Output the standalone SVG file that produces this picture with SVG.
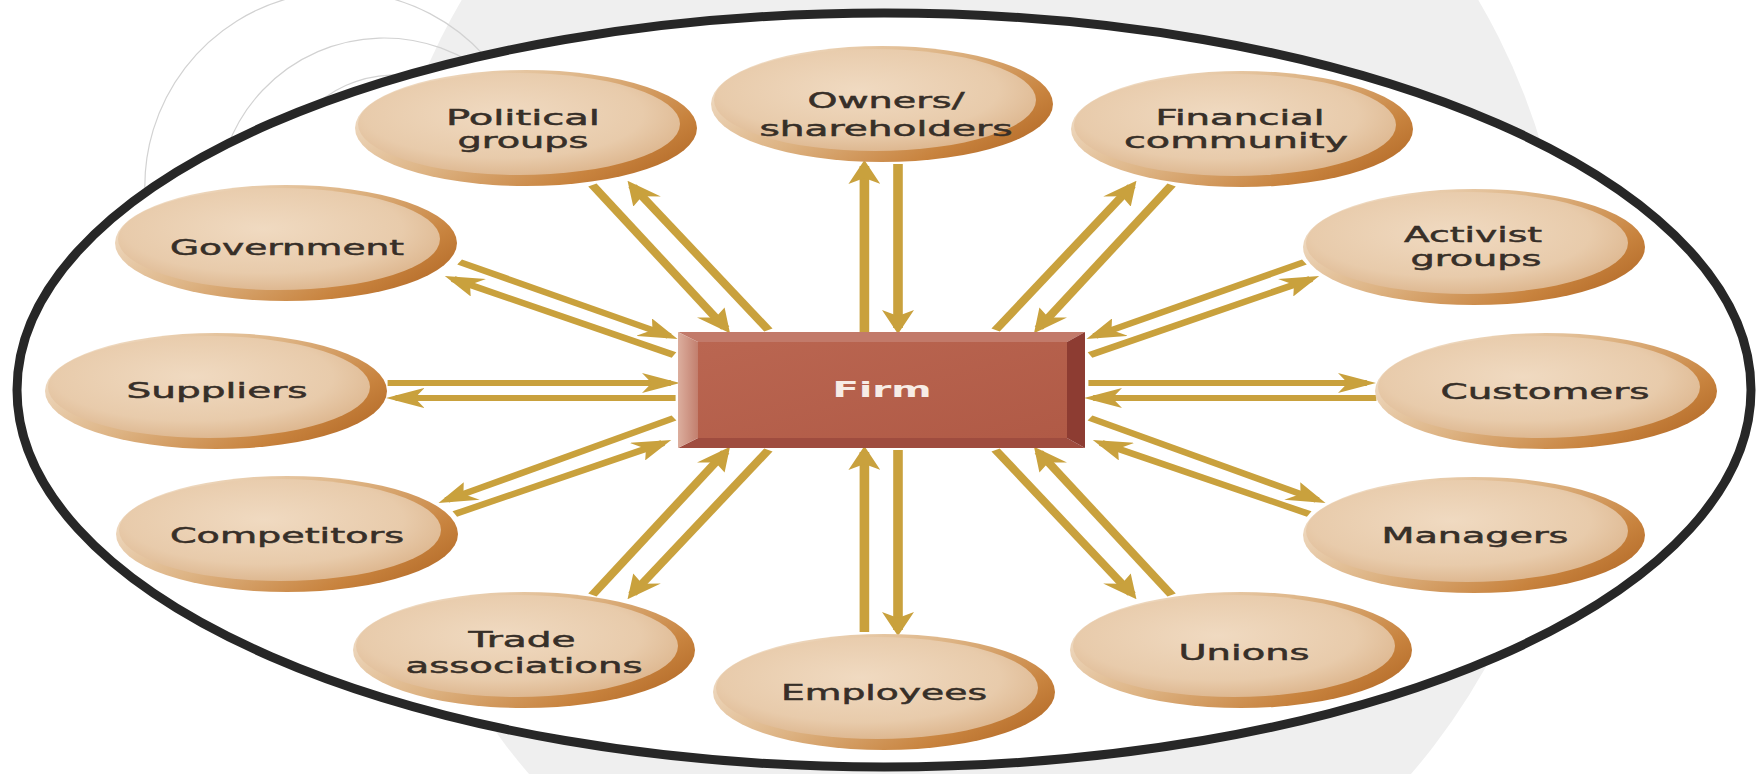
<svg xmlns="http://www.w3.org/2000/svg" width="1758" height="774" viewBox="0 0 1758 774">
<defs>
<style>
.lbl{font-family:"DejaVu Sans","Liberation Sans",sans-serif;font-size:21px;fill:#372f28;stroke:#372f28;stroke-width:0.5;text-anchor:middle}
.firm{font-family:"DejaVu Sans","Liberation Sans",sans-serif;font-size:21px;font-weight:bold;fill:#f7ece6;text-anchor:middle}
.rim{fill:url(#rimG)}
.face{fill:url(#faceG)}
.arc{fill:none;stroke:#d2d2d2;stroke-width:1.2}
.cn{fill:none;stroke:#c9a13d;stroke-width:6;marker-end:url(#ah)}
</style>
<linearGradient id="rimG" x1="0" y1="0.2" x2="1" y2="0.8">
<stop offset="0" stop-color="#f2e2cf"/>
<stop offset="0.45" stop-color="#ddb383"/>
<stop offset="0.8" stop-color="#c8833e"/>
<stop offset="1" stop-color="#b36a28"/>
</linearGradient>
<radialGradient id="faceG" cx="0.45" cy="0.4" r="0.62">
<stop offset="0" stop-color="#f0dac1"/>
<stop offset="0.7" stop-color="#e8cbab"/>
<stop offset="1" stop-color="#ddb68e"/>
</radialGradient>
<linearGradient id="firmFace" x1="0" y1="0" x2="1" y2="1">
<stop offset="0" stop-color="#ba6651"/>
<stop offset="1" stop-color="#b05a46"/>
</linearGradient>
<linearGradient id="firmLeft" x1="0" y1="0" x2="1" y2="0">
<stop offset="0" stop-color="#dcae9e"/>
<stop offset="1" stop-color="#c27f6e"/>
</linearGradient>
<marker id="ah" markerUnits="userSpaceOnUse" markerWidth="24" markerHeight="20" refX="18" refY="10" orient="auto">
<path d="M0,0 L24,10 L0,20 L6,10 Z" fill="#c9a13d"/>
</marker>
</defs>

<g id="background">
<rect x="0" y="0" width="1758" height="774" fill="#ffffff"/>
<ellipse cx="970" cy="340" rx="600" ry="640" fill="#efefef"/>
<path class="arc" d="M145,195 A195,195 0 0 1 520,112"/>
<path class="arc" d="M217,210 A167,167 0 0 1 551,200"/>
<path class="arc" d="M275,200 A120,120 0 0 1 515,190"/>
<ellipse cx="884" cy="390" rx="867" ry="377" fill="#ffffff" stroke="#272727" stroke-width="9"/>
</g>

<g id="connectors" transform="matrix(1.6 0 0 1 -529.2 0)">
<path class="cn" d="M871,332 L871,166"/>
<path class="cn" d="M892,164 L892,328"/>
<path class="cn" d="M871,632 L871,452"/>
<path class="cn" d="M892,450 L892,630"/>
<path class="cn" d="M573,383 L750,383"/>
<path class="cn" d="M753,398 L578,398"/>
<path class="cn" d="M1011,383 L1185,383"/>
<path class="cn" d="M1191,398 L1014,398"/>
<path class="cn" d="M701,185 L784,328"/>
<path class="cn" d="M811,330 L726,186"/>
<path class="cn" d="M953,330 L1038,186"/>
<path class="cn" d="M1063,185 L980,328"/>
<path class="cn" d="M701,595 L784,452"/>
<path class="cn" d="M811,450 L726,594"/>
<path class="cn" d="M953,450 L1038,594"/>
<path class="cn" d="M1063,595 L980,452"/>
<path class="cn" d="M618,262 L749,336"/>
<path class="cn" d="M752,355 L614,279"/>
<path class="cn" d="M1146,262 L1015,336"/>
<path class="cn" d="M1012,355 L1150,279"/>
<path class="cn" d="M752,418 L610,500"/>
<path class="cn" d="M615,514 L745,443"/>
<path class="cn" d="M1012,418 L1154,500"/>
<path class="cn" d="M1149,514 L1019,443"/>
</g>

<g id="node-firm">
<polygon points="678,332 1085,332 1067,342 698,342" fill="#c27a6a"/>
<polygon points="678,448 1085,448 1067,438 698,438" fill="#9f4c3f"/>
<polygon points="678,332 698,342 698,438 678,448" fill="url(#firmLeft)"/>
<polygon points="1085,332 1067,342 1067,438 1085,448" fill="#8d3c32"/>
<rect x="698" y="342" width="369" height="96" fill="url(#firmFace)"/>
<text class="firm" x="882" y="397" textLength="99" lengthAdjust="spacingAndGlyphs">Firm</text>
</g>

<g id="node-owners">
<ellipse class="rim" cx="882" cy="104" rx="171" ry="58"/>
<ellipse class="face" cx="875" cy="100" rx="161" ry="51"/>
<text class="lbl" x="886" y="108" textLength="157" lengthAdjust="spacingAndGlyphs">Owners/</text>
<text class="lbl" x="886" y="136" textLength="253" lengthAdjust="spacingAndGlyphs">shareholders</text>
</g>

<g id="node-political">
<ellipse class="rim" cx="526" cy="128" rx="171" ry="58"/>
<ellipse class="face" cx="519" cy="124" rx="161" ry="51"/>
<text class="lbl" x="523" y="125" textLength="154" lengthAdjust="spacingAndGlyphs">Political</text>
<text class="lbl" x="523" y="148" textLength="131" lengthAdjust="spacingAndGlyphs">groups</text>
</g>

<g id="node-financial">
<ellipse class="rim" cx="1242" cy="129" rx="171" ry="58"/>
<ellipse class="face" cx="1235" cy="125" rx="161" ry="51"/>
<text class="lbl" x="1240" y="125" textLength="169" lengthAdjust="spacingAndGlyphs">Financial</text>
<text class="lbl" x="1236" y="148" textLength="224" lengthAdjust="spacingAndGlyphs">community</text>
</g>

<g id="node-government">
<ellipse class="rim" cx="286" cy="243" rx="171" ry="58"/>
<ellipse class="face" cx="279" cy="239" rx="161" ry="51"/>
<text class="lbl" x="287" y="255" textLength="234" lengthAdjust="spacingAndGlyphs">Government</text>
</g>

<g id="node-activist">
<ellipse class="rim" cx="1474" cy="247" rx="171" ry="58"/>
<ellipse class="face" cx="1467" cy="243" rx="161" ry="51"/>
<text class="lbl" x="1473" y="242" textLength="138" lengthAdjust="spacingAndGlyphs">Activist</text>
<text class="lbl" x="1476" y="266" textLength="131" lengthAdjust="spacingAndGlyphs">groups</text>
</g>

<g id="node-suppliers">
<ellipse class="rim" cx="216" cy="391" rx="171" ry="58"/>
<ellipse class="face" cx="209" cy="387" rx="161" ry="51"/>
<text class="lbl" x="217" y="398" textLength="181" lengthAdjust="spacingAndGlyphs">Suppliers</text>
</g>

<g id="node-customers">
<ellipse class="rim" cx="1546" cy="391" rx="171" ry="58"/>
<ellipse class="face" cx="1539" cy="387" rx="161" ry="51"/>
<text class="lbl" x="1545" y="399" textLength="209" lengthAdjust="spacingAndGlyphs">Customers</text>
</g>

<g id="node-competitors">
<ellipse class="rim" cx="287" cy="534" rx="171" ry="58"/>
<ellipse class="face" cx="280" cy="530" rx="161" ry="51"/>
<text class="lbl" x="287" y="543" textLength="234" lengthAdjust="spacingAndGlyphs">Competitors</text>
</g>

<g id="node-managers">
<ellipse class="rim" cx="1474" cy="535" rx="171" ry="58"/>
<ellipse class="face" cx="1467" cy="531" rx="161" ry="51"/>
<text class="lbl" x="1475" y="543" textLength="187" lengthAdjust="spacingAndGlyphs">Managers</text>
</g>

<g id="node-trade">
<ellipse class="rim" cx="524" cy="650" rx="171" ry="58"/>
<ellipse class="face" cx="517" cy="646" rx="161" ry="51"/>
<text class="lbl" x="522" y="647" textLength="107" lengthAdjust="spacingAndGlyphs">Trade</text>
<text class="lbl" x="524" y="673" textLength="237" lengthAdjust="spacingAndGlyphs">associations</text>
</g>

<g id="node-unions">
<ellipse class="rim" cx="1241" cy="650" rx="171" ry="58"/>
<ellipse class="face" cx="1234" cy="646" rx="161" ry="51"/>
<text class="lbl" x="1244" y="660" textLength="131" lengthAdjust="spacingAndGlyphs">Unions</text>
</g>

<g id="node-employees">
<ellipse class="rim" cx="884" cy="692" rx="171" ry="58"/>
<ellipse class="face" cx="877" cy="688" rx="161" ry="51"/>
<text class="lbl" x="884" y="700" textLength="206" lengthAdjust="spacingAndGlyphs">Employees</text>
</g>
</svg>
